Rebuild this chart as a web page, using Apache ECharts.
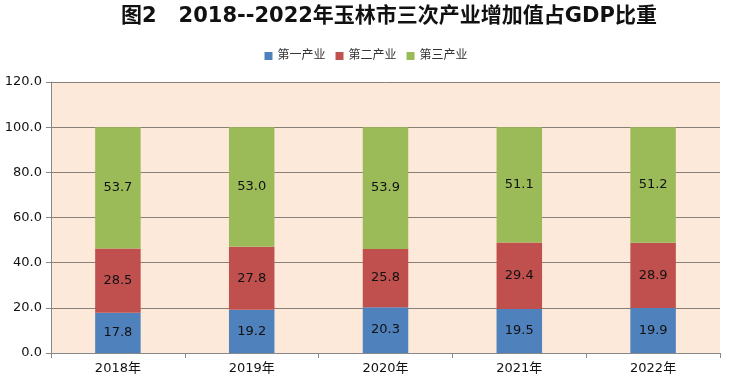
<!DOCTYPE html>
<html><head><meta charset="utf-8">
<script src="https://cdn.jsdelivr.net/npm/echarts@6/dist/echarts.min.js"></script>
<style>html,body{margin:0;padding:0;background:#fff}#c{width:732px;height:384px}</style>
</head><body><div id="c"></div>
<script>
const categories = ['2018年','2019年','2020年','2021年','2022年'];
const primary = [17.8, 19.2, 20.3, 19.5, 19.9];
const secondary = [28.5, 27.8, 25.8, 29.4, 28.9];
const tertiary = [53.7, 53.0, 53.9, 51.1, 51.2];
const seriesNames = ['第一产业','第二产业','第三产业'];
const colors = ['#4F81BD','#C0504D','#9BBB59'];
const font = '"DejaVu Sans","Noto Sans CJK SC",sans-serif';
const chart = echarts.init(document.getElementById('c'));
const lbl = {show:true, position:'inside', color:'#111', fontSize:13, fontFamily:font, formatter:p=>p.value.toFixed(1)};
chart.setOption({
  animation:false,
  title:{text:'图2   2018--2022年玉林市三次产业增加值占GDP比重', left:116, top:1,
    textStyle:{fontSize:21, fontWeight:'bold', color:'#111', fontFamily:font}},
  legend:{top:45, left:'center', itemWidth:8, itemHeight:8, itemGap:10, icon:'rect',
    textStyle:{fontSize:12, color:'#333', fontFamily:font}, data:seriesNames},
  grid:{left:51, right:12, top:82, bottom:31, show:true, backgroundColor:'#FDE9D9', borderWidth:0},
  xAxis:{type:'category', data:categories,
    axisLine:{lineStyle:{color:'#888'}}, axisTick:{show:true, alignWithLabel:false, length:5, lineStyle:{color:'#888'}},
    axisLabel:{color:'#111', fontSize:13, fontFamily:font, margin:9}},
  yAxis:{type:'value', min:0, max:120, interval:20,
    axisLine:{show:true, lineStyle:{color:'#888'}}, axisTick:{show:true, length:5, lineStyle:{color:'#888'}},
    splitLine:{lineStyle:{color:'#8a7f76'}},
    axisLabel:{color:'#111', fontSize:13, fontFamily:font, margin:9, formatter:v=>v.toFixed(1)}},
  series:[
    {name:seriesNames[0], type:'bar', stack:'s', data:primary, barWidth:'34%', itemStyle:{color:colors[0]}, label:lbl},
    {name:seriesNames[1], type:'bar', stack:'s', data:secondary, itemStyle:{color:colors[1]}, label:lbl},
    {name:seriesNames[2], type:'bar', stack:'s', data:tertiary, itemStyle:{color:colors[2]}, label:lbl}
  ]
});
</script></body></html>
